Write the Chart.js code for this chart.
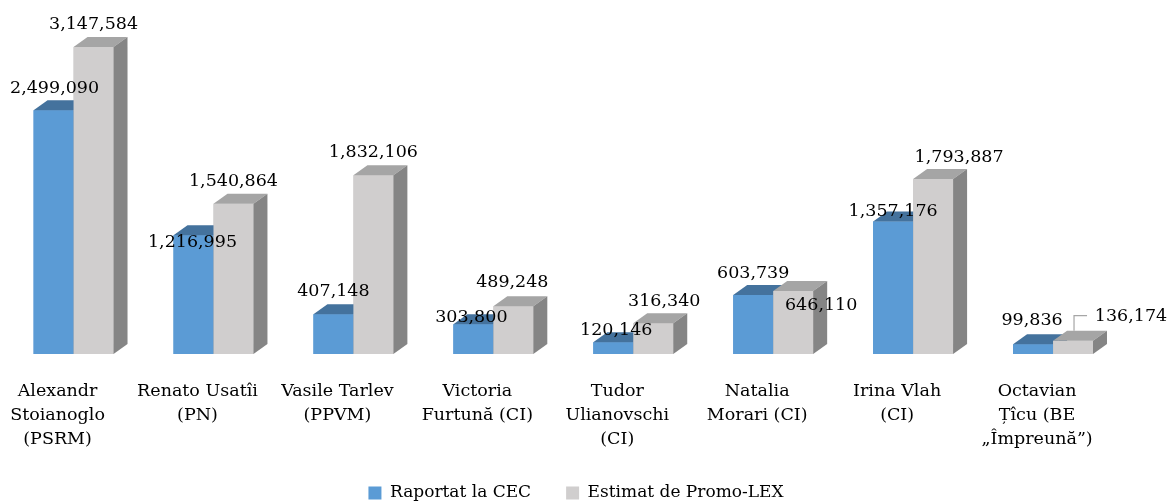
<!DOCTYPE html>
<html>
<head>
<meta charset="utf-8">
<script src="https://cdn.jsdelivr.net/npm/chart.js@4.4.1/dist/chart.umd.min.js"></script>
<style>
  html, body { margin: 0; padding: 0; background: #fff; }
  #wrap { width: 1170px; height: 502px; position: relative; }
</style>
</head>
<body>
<div id="wrap"><canvas id="chart"></canvas></div>
<script>
// --- Data ---
const candidates = [
    ['Alexandr', 'Stoianoglo', '(PSRM)'],
    ['Renato Usatîi', '(PN)'],
    ['Vasile Tarlev', '(PPVM)'],
    ['Victoria', 'Furtună (CI)'],
    ['Tudor', 'Ulianovschi', '(CI)'],
    ['Natalia', 'Morari (CI)'],
    ['Irina Vlah', '(CI)'],
    ['Octavian', 'Țîcu (BE', '„Împreună”)']
];
const seriesNames = ['Raportat la CEC', 'Estimat de Promo-LEX'];
const reportedCEC = [2499090, 1216995, 407148, 303800, 120146, 603739, 1357176, 99836];
const estimatedPromoLex = [3147584, 1540864, 1832106, 489248, 316340, 646110, 1793887, 136174];

// label nudges [dx, dy] from the top centre of each bar's front face
const reportedLabelShift = [[1, -22], [-1, 7], [0, -23], [-2, -7], [3, -12], [0, -22], [0, -10], [-1, -24]];
const estimatedLabelShift = [[0, -23], [0, -22], [0, -23], [-1, -24], [11, -22], [28, 14], [26, -22], [58, -24]];
const estimatedLeader = [false, false, false, false, false, false, false, true];

// --- 3D look ---
const DX = 14, DY = 10;
const faceColors = [
    { top: '#44729D', side: '#3A6690' },
    { top: '#A5A5A5', side: '#858585' }
];

const bars3d = {
    id: 'bars3d',
    afterDatasetsDraw(chart) {
        const ctx = chart.ctx;
        const metas = [chart.getDatasetMeta(0), chart.getDatasetMeta(1)];
        candidates.forEach((_, i) => {
            metas.forEach((meta, d) => {
                const bar = meta.data[i];
                const { x, y, base, width } = bar.getProps(['x', 'y', 'base', 'width'], true);
                const l = x - width / 2, r = x + width / 2;
                bar.draw(ctx);
                ctx.save();
                ctx.fillStyle = faceColors[d].top;
                ctx.beginPath();
                ctx.moveTo(l, y);
                ctx.lineTo(r, y);
                ctx.lineTo(r + DX, y - DY);
                ctx.lineTo(l + DX, y - DY);
                ctx.closePath();
                ctx.fill();
                ctx.fillStyle = faceColors[d].side;
                ctx.beginPath();
                ctx.moveTo(r, y);
                ctx.lineTo(r + DX, y - DY);
                ctx.lineTo(r + DX, base - DY);
                ctx.lineTo(r, base);
                ctx.closePath();
                ctx.fill();
                ctx.restore();
            });
        });
    }
};

const valueLabels = {
    id: 'valueLabels',
    afterDraw(chart) {
        const ctx = chart.ctx;
        const shifts = [reportedLabelShift, estimatedLabelShift];
        ctx.save();
        ctx.font = "17.5px 'DejaVu Serif', serif";
        ctx.fillStyle = '#000';
        ctx.textAlign = 'center';
        ctx.textBaseline = 'middle';
        chart.data.datasets.forEach((ds, d) => {
            chart.getDatasetMeta(d).data.forEach((bar, i) => {
                const [sx, sy] = shifts[d][i];
                ctx.fillText(ds.data[i].toLocaleString('en-US'), bar.x + sx, bar.y + sy);
                if (d === 1 && estimatedLeader[i]) {
                    ctx.strokeStyle = '#A6A6A6';
                    ctx.lineWidth = 1.2;
                    ctx.beginPath();
                    ctx.moveTo(bar.x + 1, bar.y - 10);
                    ctx.lineTo(bar.x + 1, bar.y - 25);
                    ctx.lineTo(bar.x + 14, bar.y - 25);
                    ctx.stroke();
                }
            });
        });
        ctx.restore();
    }
};

// legend sits a little right of centre in the original
const legendNudge = {
    id: 'legendNudge',
    afterLayout(chart) {
        chart.legend.left += 13;
        chart.legend.right += 13;
    }
};

Chart.defaults.font.family = "'DejaVu Serif', serif";
Chart.defaults.font.size = 17;
Chart.defaults.color = '#000';

new Chart(document.getElementById('chart'), {
    type: 'bar',
    data: {
        labels: candidates,
        datasets: [
            {
                label: seriesNames[0],
                data: reportedCEC,
                backgroundColor: '#5B9BD5',
                borderWidth: 0,
                categoryPercentage: 0.5714,
                barPercentage: 1.0
            },
            {
                label: seriesNames[1],
                data: estimatedPromoLex,
                backgroundColor: '#D0CECE',
                borderWidth: 0,
                categoryPercentage: 0.5714,
                barPercentage: 1.0
            }
        ]
    },
    options: {
        responsive: true,
        maintainAspectRatio: false,
        animation: false,
        layout: { padding: { left: 3, right: 47, top: 0, bottom: -9.5 } },
        plugins: {
            legend: {
                position: 'bottom',
                labels: {
                    boxWidth: 13,
                    boxHeight: 13,
                    padding: 35,
                    color: '#000',
                    font: { size: 17 }
                }
            },
            tooltip: { enabled: false }
        },
        scales: {
            x: {
                grid: { display: false, drawTicks: false },
                border: { display: false },
                ticks: {
                    padding: 26,
                    labelOffset: -16,
                    autoSkip: false,
                    maxRotation: 0,
                    color: '#000',
                    font: { size: 17.5, lineHeight: 1.36 }
                },
                afterFit(scale) { scale.height = 95.5; }
            },
            y: {
                display: false,
                min: 0,
                max: 3629000
            }
        }
    },
    plugins: [bars3d, valueLabels, legendNudge]
});
</script>
</body>
</html>
